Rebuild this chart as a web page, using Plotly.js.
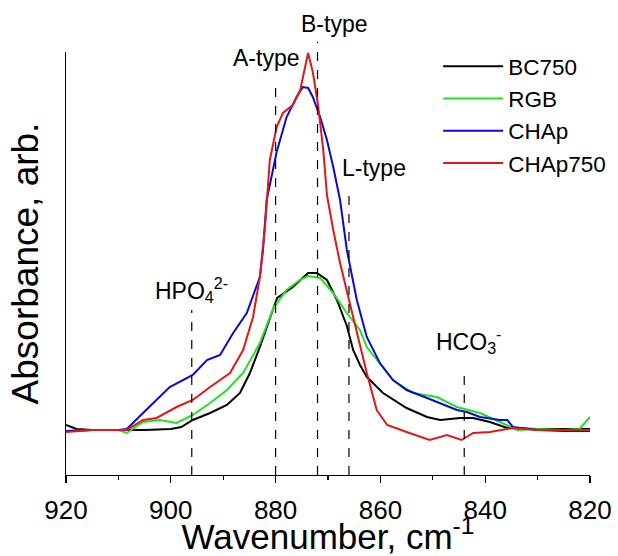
<!DOCTYPE html>
<html>
<head>
<meta charset="utf-8">
<script src="https://cdn.plot.ly/plotly-3.0.1.min.js"></script>
<style>html,body{margin:0;padding:0;background:#fff;}#chart{width:618px;height:556px;}</style>
</head>
<body>
<div id="chart"></div>
<script>
// Wavenumber (cm-1) and absorbance (arb., baseline = 0)
const bcWn  = [920, 918, 915, 910, 905, 900, 898, 895.8, 892.5, 889.3, 886.8, 884.9, 883, 881, 879.7, 876.7, 873.8, 872.1, 870.2, 868.3, 866.4, 865.2, 863.9, 862.6, 859.5, 855, 851.1, 848.6, 844.8, 842.3, 839.1, 835.8, 830, 820];
const bcAbs = [0.004, 0.000, -0.001, -0.001, -0.001, 0.000, 0.002, 0.009, 0.016, 0.024, 0.036, 0.056, 0.082, 0.112, 0.131, 0.142, 0.156, 0.156, 0.149, 0.129, 0.103, 0.079, 0.064, 0.052, 0.036, 0.021, 0.012, 0.009, 0.011, 0.011, 0.007, 0.001, 0.000, 0.000];

const rgbWn  = [920, 915, 910, 908.4, 905.3, 902.1, 898.9, 895.8, 892.5, 889.3, 886.2, 883, 880.4, 877.9, 875.4, 873.8, 871.5, 869, 866.4, 863.9, 862.6, 860.1, 857.6, 853.8, 849.2, 845.4, 841, 837.2, 833.9, 830, 825, 822, 820];
const rgbAbs = [-0.002, -0.001, -0.001, -0.004, 0.007, 0.009, 0.006, 0.014, 0.026, 0.039, 0.056, 0.086, 0.121, 0.139, 0.149, 0.153, 0.151, 0.136, 0.116, 0.099, 0.082, 0.066, 0.049, 0.036, 0.032, 0.022, 0.016, 0.007, -0.001, 0.000, -0.001, 0.000, 0.012];

const chapWn  = [920, 915, 910, 908.4, 905.3, 902.1, 900.2, 895.8, 893.1, 890.6, 888.1, 885.5, 883, 882.4, 881.7, 879.8, 877.9, 876, 874.8, 873.8, 872.9, 871.5, 870.2, 869, 867.7, 866.4, 864.5, 862.6, 860.1, 857.6, 855, 851.1, 848.6, 845.4, 843.5, 841, 837.2, 835.8, 834.7, 830, 825, 820];
const chapAbs = [-0.002, -0.001, -0.001, 0.000, 0.016, 0.032, 0.042, 0.054, 0.069, 0.074, 0.096, 0.116, 0.152, 0.179, 0.229, 0.277, 0.312, 0.332, 0.342, 0.341, 0.332, 0.312, 0.289, 0.262, 0.229, 0.179, 0.129, 0.092, 0.066, 0.049, 0.039, 0.031, 0.026, 0.019, 0.017, 0.012, 0.009, 0.009, 0.002, -0.001, -0.002, -0.002];

const chap750Wn  = [920, 915, 910, 908.4, 905.3, 902.7, 898.9, 895.8, 892.5, 888.7, 886.2, 884.3, 883, 882, 881.1, 879.8, 878.6, 876.7, 875.3, 874, 873.8, 872.9, 871.9, 870.9, 870.2, 869, 867.7, 865.2, 862.6, 860.7, 858.7, 855, 850.6, 847.3, 844.5, 842.3, 839.1, 834.7, 830, 825, 820];
const chap750Abs = [-0.003, -0.001, -0.001, -0.001, 0.009, 0.011, 0.022, 0.029, 0.042, 0.056, 0.079, 0.112, 0.152, 0.204, 0.269, 0.302, 0.316, 0.324, 0.339, 0.372, 0.376, 0.357, 0.324, 0.279, 0.234, 0.199, 0.166, 0.112, 0.056, 0.019, 0.004, -0.003, -0.011, -0.006, -0.011, -0.004, -0.003, 0.001, -0.001, -0.001, -0.001];

const seriesNames  = ['BC750', 'RGB', 'CHAp', 'CHAp750'];
const seriesColors = ['#000000', '#22e022', '#0a0ad0', '#e01818'];

// Band markers: position (cm-1), label, dashed-line top (fraction of plot height)
const bandWn     = [896, 880, 872, 866, 844];
const bandTop    = [0.390, 0.922, 1.024, 0.674, 0.255];
const bandLabel  = ['HPO<sub>4</sub><sup>2-</sup>', 'A-type', 'B-type', 'L-type', 'HCO<sub>3</sub><sup>-</sup>'];
const labelWn    = [896, 881.8, 868.9, 861.2, 843.1];
const labelY     = [0.395, 0.950, 1.030, 0.690, 0.274];

const FONT = 'Liberation Sans, Arial, sans-serif';
const xs = [bcWn, rgbWn, chapWn, chap750Wn];
const ys = [bcAbs, rgbAbs, chapAbs, chap750Abs];

const traces = seriesNames.map((n, i) => ({
  x: xs[i], y: ys[i], name: n, type: 'scatter', mode: 'lines',
  line: {color: seriesColors[i], width: 2}
}));

const shapes = bandWn.map((w, i) => ({
  type: 'line', xref: 'x', yref: 'paper', x0: w, x1: w, y0: 0, y1: bandTop[i],
  line: {color: '#000', width: 1.2, dash: 'dash'}
}));

const annotations = bandLabel.map((t, i) => ({
  text: t, xref: 'x', yref: 'paper', x: labelWn[i], y: labelY[i],
  xanchor: 'center', yanchor: 'bottom', showarrow: false,
  font: {family: FONT, size: 23, color: '#000'}
}));

const layout = {
  width: 618, height: 556,
  margin: {l: 66, r: 28, t: 52, b: 81, pad: 0, autoexpand: false},
  paper_bgcolor: '#fff', plot_bgcolor: '#fff',
  font: {family: FONT, color: '#000'},
  showlegend: true,
  legend: {xref: 'container', yref: 'container', x: 0.709, y: 0.919, xanchor: 'left', yanchor: 'top',
           bgcolor: 'rgba(0,0,0,0)', font: {family: FONT, size: 22.5, color: '#000'},
           itemwidth: 60, tracegroupgap: 0},
  xaxis: {
    range: [920, 820], showgrid: false, zeroline: false, showline: true, automargin: false,
    linecolor: '#000', linewidth: 1.2, ticks: 'outside', ticklen: 7, tickwidth: 1.2, tickcolor: '#000',
    dtick: 20, tick0: 820, ticklabelstandoff: 5, tickfont: {family: FONT, size: 26, color: '#000'},
    minor: {ticks: 'outside', ticklen: 4, dtick: 10, tickcolor: '#000', tickwidth: 1.2},
    title: {text: 'Wavenumber, cm<sup>-1</sup>', font: {family: FONT, size: 35, color: '#000'}, standoff: 7}
  },
  yaxis: {
    range: [-0.046, 0.377], showgrid: false, zeroline: false, showline: true, automargin: false,
    linecolor: '#000', linewidth: 1.2, ticks: '', showticklabels: false,
    title: {text: 'Absorbance, arb.', font: {family: FONT, size: 37, color: '#000'}, standoff: 14}
  },
  shapes: shapes,
  annotations: annotations
};

Plotly.newPlot('chart', traces, layout, {displayModeBar: false, staticPlot: true});
</script>
</body>
</html>
